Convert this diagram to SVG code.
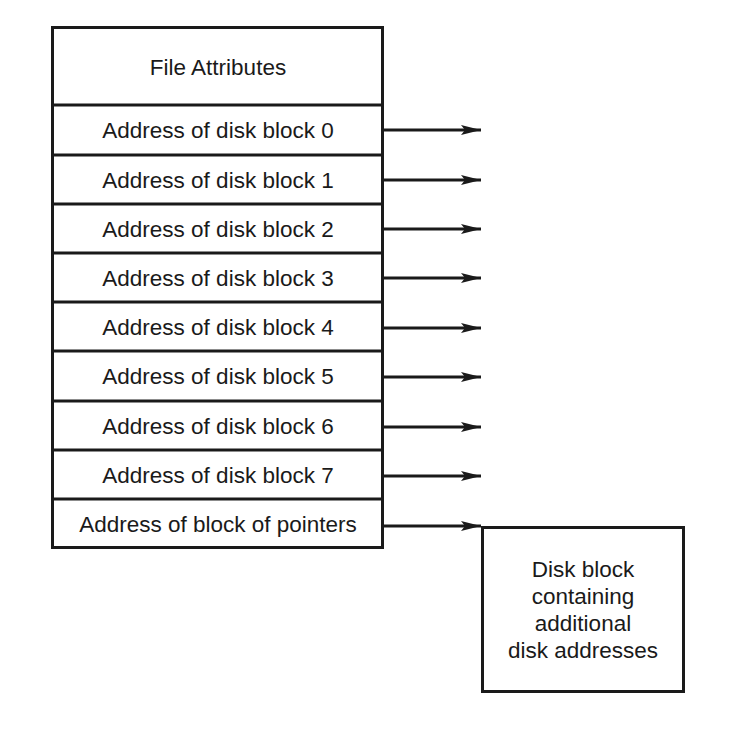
<svg xmlns="http://www.w3.org/2000/svg" width="731" height="730" viewBox="0 0 731 730">
<style>
.box{fill:#fff;stroke:#1a1a1a;stroke-width:3}
.div{stroke:#1a1a1a;stroke-width:3}
.t{font-family:"Liberation Sans",Arial,sans-serif;font-size:22.5px;fill:#1a1a1a;text-anchor:middle}
.c{stroke:#1a1a1a;stroke-width:3;fill:none}
</style>
<defs>
<marker id="ah" markerUnits="userSpaceOnUse" markerWidth="20" markerHeight="10" refX="20" refY="5" orient="auto">
<path d="M0,0 L20,5 L0,10 L4,5 Z" fill="#1a1a1a"/>
</marker>
</defs>
<rect width="731" height="730" fill="#fff"/>
<g id="inode">
<rect class="box" x="52.5" y="27.5" width="330" height="520"/>
<line class="div" x1="52" y1="105" x2="383" y2="105"/>
<line class="div" x1="52" y1="155" x2="383" y2="155"/>
<line class="div" x1="52" y1="204" x2="383" y2="204"/>
<line class="div" x1="52" y1="253" x2="383" y2="253"/>
<line class="div" x1="52" y1="302" x2="383" y2="302"/>
<line class="div" x1="52" y1="351" x2="383" y2="351"/>
<line class="div" x1="52" y1="401" x2="383" y2="401"/>
<line class="div" x1="52" y1="450" x2="383" y2="450"/>
<line class="div" x1="52" y1="499" x2="383" y2="499"/>
<text class="t" x="218" y="75">File Attributes</text>
<text class="t" x="218" y="138">Address of disk block 0</text>
<text class="t" x="218" y="188">Address of disk block 1</text>
<text class="t" x="218" y="237">Address of disk block 2</text>
<text class="t" x="218" y="286">Address of disk block 3</text>
<text class="t" x="218" y="335">Address of disk block 4</text>
<text class="t" x="218" y="384">Address of disk block 5</text>
<text class="t" x="218" y="434">Address of disk block 6</text>
<text class="t" x="218" y="483">Address of disk block 7</text>
<text class="t" x="218" y="532">Address of block of pointers</text>
</g>
<g id="pointer-block">
<rect class="box" x="482.5" y="527.5" width="201" height="164"/>
<text class="t" x="583" y="577">Disk block</text>
<text class="t" x="583" y="604">containing</text>
<text class="t" x="583" y="631">additional</text>
<text class="t" x="583" y="658">disk addresses</text>
</g>
<g id="connectors">
<line class="c" x1="384" y1="130" x2="481" y2="130" marker-end="url(#ah)"/>
<line class="c" x1="384" y1="180" x2="481" y2="180" marker-end="url(#ah)"/>
<line class="c" x1="384" y1="229" x2="481" y2="229" marker-end="url(#ah)"/>
<line class="c" x1="384" y1="278" x2="481" y2="278" marker-end="url(#ah)"/>
<line class="c" x1="384" y1="328" x2="481" y2="328" marker-end="url(#ah)"/>
<line class="c" x1="384" y1="377" x2="481" y2="377" marker-end="url(#ah)"/>
<line class="c" x1="384" y1="427" x2="481" y2="427" marker-end="url(#ah)"/>
<line class="c" x1="384" y1="476" x2="481" y2="476" marker-end="url(#ah)"/>
<line class="c" x1="384" y1="526" x2="481" y2="526" marker-end="url(#ah)"/>
</g>
</svg>
